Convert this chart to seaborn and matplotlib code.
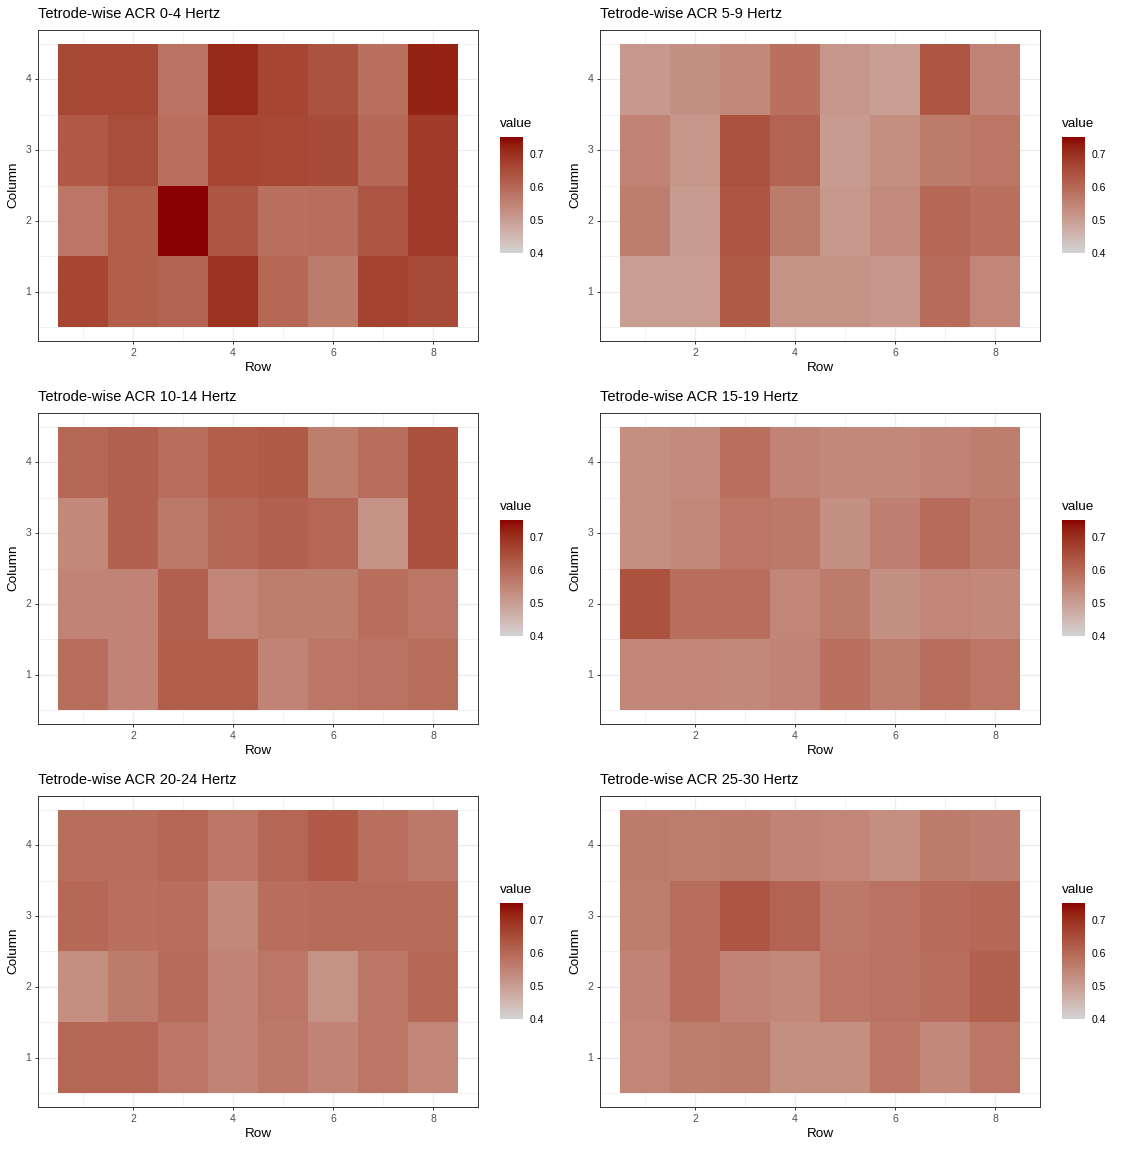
import numpy as np
import pandas as pd
import seaborn as sns
import matplotlib
import matplotlib.pyplot as plt
from matplotlib.colors import ListedColormap

matplotlib.use("Agg")

# dados: cada lista = Column 1..4, cada valor = Row 1..8
rows = [1, 2, 3, 4, 5, 6, 7, 8]
columns = [1, 2, 3, 4]
bands = ["0-4", "5-9", "10-14", "15-19", "20-24", "25-30"]

acr_0_4 = [
    [0.665, 0.62, 0.61, 0.695, 0.60, 0.565, 0.67, 0.655],
    [0.575, 0.62, 0.753, 0.635, 0.585, 0.59, 0.635, 0.68],
    [0.63, 0.65, 0.585, 0.665, 0.66, 0.655, 0.60, 0.68],
    [0.66, 0.66, 0.58, 0.71, 0.665, 0.64, 0.585, 0.72],
]
acr_5_9 = [
    [0.50, 0.50, 0.625, 0.52, 0.52, 0.515, 0.595, 0.545],
    [0.56, 0.505, 0.635, 0.565, 0.51, 0.535, 0.60, 0.585],
    [0.55, 0.515, 0.64, 0.61, 0.505, 0.53, 0.565, 0.575],
    [0.51, 0.525, 0.54, 0.585, 0.515, 0.50, 0.635, 0.55],
]
acr_10_14 = [
    [0.59, 0.55, 0.62, 0.62, 0.55, 0.575, 0.58, 0.59],
    [0.55, 0.55, 0.615, 0.545, 0.56, 0.56, 0.59, 0.575],
    [0.54, 0.615, 0.57, 0.60, 0.615, 0.605, 0.52, 0.645],
    [0.60, 0.615, 0.59, 0.62, 0.625, 0.56, 0.59, 0.645],
]
acr_15_19 = [
    [0.545, 0.545, 0.54, 0.55, 0.585, 0.56, 0.59, 0.575],
    [0.64, 0.59, 0.59, 0.545, 0.565, 0.525, 0.545, 0.54],
    [0.53, 0.54, 0.575, 0.57, 0.525, 0.555, 0.595, 0.57],
    [0.53, 0.535, 0.585, 0.55, 0.54, 0.54, 0.55, 0.56],
]
acr_20_24 = [
    [0.605, 0.605, 0.575, 0.55, 0.57, 0.55, 0.575, 0.545],
    [0.53, 0.565, 0.595, 0.55, 0.575, 0.52, 0.575, 0.60],
    [0.60, 0.585, 0.59, 0.54, 0.59, 0.595, 0.595, 0.595],
    [0.59, 0.59, 0.605, 0.575, 0.605, 0.63, 0.585, 0.57],
]
acr_25_30 = [
    [0.545, 0.56, 0.565, 0.53, 0.53, 0.575, 0.54, 0.575],
    [0.55, 0.59, 0.55, 0.54, 0.575, 0.58, 0.59, 0.615],
    [0.56, 0.59, 0.635, 0.61, 0.57, 0.58, 0.595, 0.60],
    [0.565, 0.56, 0.565, 0.55, 0.545, 0.53, 0.565, 0.555],
]
panels = [acr_0_4, acr_5_9, acr_10_14, acr_15_19, acr_20_24, acr_25_30]

vmin, vmax = 0.4, 0.753


# gradiente lightgrey -> darkred interpolado em Lab (como no ggplot)
def rgb_to_lab(rgb):
    c = np.asarray(rgb, float) / 255
    lin = np.where(c <= 0.04045, c / 12.92, ((c + 0.055) / 1.055) ** 2.4)
    m = np.array([[0.4124, 0.3576, 0.1805], [0.2126, 0.7152, 0.0722], [0.0193, 0.1192, 0.9505]])
    xyz = m @ lin / np.array([0.95047, 1.0, 1.08883])
    f = np.where(xyz > 0.008856, np.cbrt(xyz), 7.787 * xyz + 16 / 116)
    return np.array([116 * f[1] - 16, 500 * (f[0] - f[1]), 200 * (f[1] - f[2])])


def lab_to_rgb(lab):
    fy = (lab[0] + 16) / 116
    f = np.array([fy + lab[1] / 500, fy, fy - lab[2] / 200])
    xyz = np.where(f ** 3 > 0.008856, f ** 3, (f - 16 / 116) / 7.787) * np.array([0.95047, 1.0, 1.08883])
    m = np.array([[3.2406, -1.5372, -0.4986], [-0.9689, 1.8758, 0.0415], [0.0557, -0.2040, 1.0570]])
    lin = np.clip(m @ xyz, 0, 1)
    c = np.where(lin <= 0.0031308, 12.92 * lin, 1.055 * lin ** (1 / 2.4) - 0.055)
    return np.clip(c, 0, 1)


lo = rgb_to_lab([211, 211, 211])
hi = rgb_to_lab([139, 0, 0])
cmap = ListedColormap([lab_to_rgb(lo + t * (hi - lo)) for t in np.linspace(0, 1, 256)])

sns.set_theme(style="white")
plt.rcParams["font.family"] = ["Liberation Sans", "DejaVu Sans"]
plt.rcParams["text.color"] = "black"

W, H = 1124, 1150
fig = plt.figure(figsize=(W / 100, H / 100), dpi=100)

for i, (band, vals) in enumerate(zip(bands, panels)):
    r, c = i // 2, i % 2
    left = 38 + 562 * c
    top = 30 + 383 * r
    ax = fig.add_axes([left / W, 1 - (top + 311) / H, 440 / W, 311 / H])
    cax = fig.add_axes([(500 + 562 * c) / W, 1 - (253 + 383 * r) / H, 23 / W, 116 / H])

    df = pd.DataFrame(vals, index=columns, columns=rows)
    sns.heatmap(df, ax=ax, cmap=cmap, vmin=vmin, vmax=vmax, cbar_ax=cax, linewidths=0)

    # eixos no estilo theme_bw
    ax.set_xlim(-0.4, 8.4)
    ax.set_ylim(-0.2, 4.2)
    ax.set_xticks([1.5, 3.5, 5.5, 7.5], labels=["2", "4", "6", "8"], rotation=0)
    ax.set_yticks([0.5, 1.5, 2.5, 3.5], labels=["1", "2", "3", "4"], rotation=0)
    ax.set_xticks([0.5, 2.5, 4.5, 6.5], minor=True)
    ax.set_yticks([0, 1, 2, 3, 4], minor=True)
    ax.set_xlabel("")
    ax.set_ylabel("")
    ax.set_axisbelow(True)
    ax.grid(which="major", color="#EBEBEB", linewidth=0.9)
    ax.grid(which="minor", color="#EBEBEB", linewidth=0.45)
    ax.tick_params(which="major", length=2.5, width=0.7, color="#333333",
                   labelcolor="#4D4D4D", labelsize=7.5, pad=2.5,
                   bottom=True, left=True)
    ax.tick_params(which="minor", length=0)
    for s in ax.spines.values():
        s.set_visible(True)
        s.set_color("#333333")
        s.set_linewidth(0.7)

    # legenda
    cbar = ax.collections[0].colorbar
    cbar.outline.set_visible(False)
    cbar.set_ticks([0.4, 0.5, 0.6, 0.7])
    cax.tick_params(direction="in", length=3.3, width=0.6, color="white",
                    left=True, right=True, labelleft=False, labelright=True,
                    labelsize=7.5, labelcolor="black", pad=4.5)

    fig.text(left / W, 1 - (top - 16) / H, f"Tetrode-wise ACR {band} Hertz",
             ha="left", va="center", fontsize=10.5)
    fig.text((left + 220) / W, 1 - (top + 338) / H, "Row", ha="center", va="center", fontsize=9.7)
    fig.text((13 + 562 * c) / W, 1 - (top + 155) / H, "Column", ha="center", va="center",
             rotation=90, fontsize=9.7)
    fig.text((500 + 562 * c) / W, 1 - (top + 94) / H, "value", ha="left", va="center", fontsize=9.7)

fig.savefig("out.png", dpi=100)
